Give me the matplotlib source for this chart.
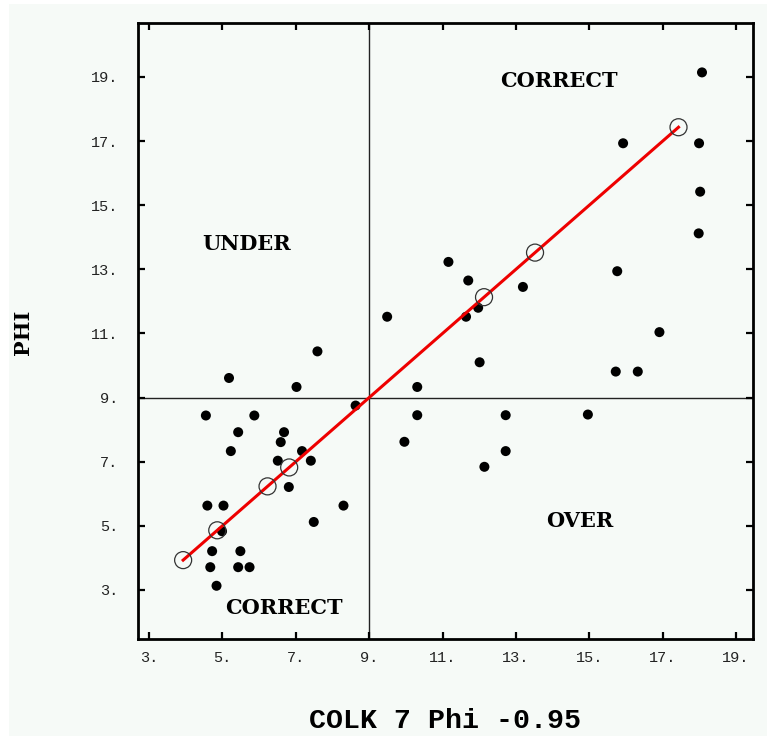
import matplotlib
matplotlib.use("Agg")
import matplotlib.pyplot as plt
from matplotlib.patches import Rectangle

# Observed pairs (COLK 7 estimate vs. PHI)
colk = [7.59, 5.18, 7.02, 8.63, 4.55, 5.87, 5.43, 6.68, 6.59, 5.23, 7.17, 6.51,
        7.41, 6.81, 4.59, 5.03, 8.30, 7.49, 4.99, 4.72, 5.49, 4.67, 5.43, 5.74,
        4.84, 11.16, 11.70, 13.19, 9.49, 11.97, 11.64, 12.01, 10.31, 10.31, 12.72,
        9.96, 12.72, 12.14, 18.07, 15.92, 17.99, 18.02, 17.98, 15.76, 16.91,
        15.72, 16.32, 14.96]
phi = [10.44, 9.61, 9.33, 8.75, 8.44, 8.44, 7.92, 7.92, 7.61, 7.33, 7.33, 7.03,
       7.03, 6.21, 5.63, 5.63, 5.63, 5.12, 4.83, 4.21, 4.21, 3.71, 3.71, 3.71,
       3.13, 13.23, 12.65, 12.45, 11.52, 11.80, 11.52, 10.10, 9.33, 8.45, 8.45,
       7.62, 7.33, 6.84, 19.14, 16.93, 16.93, 15.42, 14.12, 12.94, 11.04,
       9.81, 9.81, 8.47]

# Reference points on the 1:1 line
ref_pts = [3.93, 4.86, 6.23, 6.82, 12.13, 13.52, 17.43]

# Threshold separating the quadrants
cut = 9.0

ticks = [3, 5, 7, 9, 11, 13, 15, 17, 19]
tick_labels = ["3.", "5.", "7.", "9.", "11.", "13.", "15.", "17.", "19."]

quadrant_labels = [
    ("CORRECT", 14.17, 18.88),
    ("UNDER", 5.67, 13.78),
    ("OVER", 14.73, 5.15),
    ("CORRECT", 6.67, 2.43),
]

W, H = 767, 736
bg = "#f6faf7"

fig = plt.figure(figsize=(W / 100, H / 100), dpi=100)
fig.patch.set_facecolor("white")
fig.patches.append(Rectangle((9 / W, 0), 1 - 9 / W, 1 - 4 / H,
                             transform=fig.transFigure, facecolor=bg,
                             edgecolor="none", zorder=-10))

ax = fig.add_axes([138 / W, 1 - 639 / H, (753 - 138) / W, (639 - 22.7) / H])
ax.set_facecolor(bg)
ax.set_xlim(2.70, 19.46)
ax.set_ylim(1.47, 20.69)

ax.axvline(cut, color="#222222", lw=1.0, zorder=1)
ax.axhline(cut, color="#222222", lw=1.0, zorder=1)

ax.scatter(colk, phi, s=52, color="black", edgecolors="none", zorder=3)
ax.plot([min(ref_pts), max(ref_pts)], [min(ref_pts), max(ref_pts)],
        color="#ee0000", lw=2.2, zorder=4)
ax.scatter(ref_pts, ref_pts, s=150, facecolors="none", edgecolors="#333333",
           linewidths=0.9, zorder=5)

serif_font = dict(family="DejaVu Serif", weight="bold", size=15)
mono_font = dict(family="Liberation Mono", weight="bold", size=20.3)
for text, x, y in quadrant_labels:
    ax.text(x, y, text, ha="center", va="center", color="black", **serif_font)

for side in ax.spines.values():
    side.set_linewidth(2.0)
    side.set_color("black")

ax.set_xticks(ticks)
ax.set_xticklabels(tick_labels)
ax.set_yticks(ticks)
ax.set_yticklabels(tick_labels)
ax.tick_params(axis="both", direction="in", length=5, width=1.6,
               top=True, right=True, labelsize=11, colors="black")
ax.tick_params(axis="x", pad=9)
ax.tick_params(axis="y", pad=14)
for lab in ax.get_xticklabels() + ax.get_yticklabels():
    lab.set_family("Liberation Mono")
    lab.set_color("#222222")

fig.text(23 / W, 1 - 332 / H, "PHI", rotation=90, ha="center", va="center",
         **serif_font)
fig.text(445 / W, 1 - 728 / H, "COLK 7 Phi -0.95", ha="center",
         va="baseline", **mono_font)

fig.savefig("out.png", dpi=100, facecolor=fig.get_facecolor())
